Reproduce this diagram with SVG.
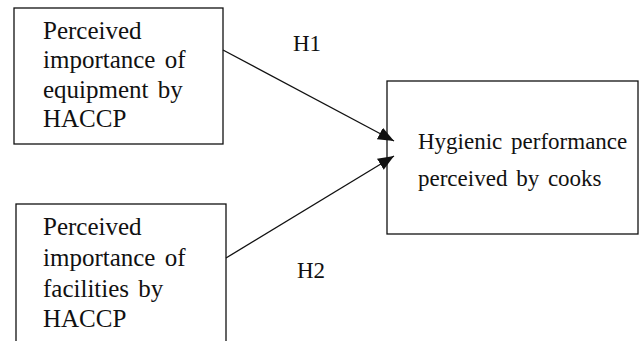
<svg xmlns="http://www.w3.org/2000/svg" width="644" height="341" viewBox="0 0 644 341">
<defs>
<style>
.box{fill:#fff;stroke:#111;stroke-width:1.3}
.t{font-family:"Liberation Serif","Times New Roman",serif;fill:#111;font-size:25px;word-spacing:3px}
.tr{font-family:"Liberation Serif","Times New Roman",serif;fill:#111;font-size:23px;word-spacing:3px}
.h{font-family:"Liberation Serif","Times New Roman",serif;fill:#111;font-size:23px}
.c{stroke:#111;stroke-width:1.3;fill:none}
</style>
<marker id="ah" markerWidth="17" markerHeight="14" refX="16" refY="6.5" orient="auto" markerUnits="userSpaceOnUse">
<path d="M0,0 L16,6.5 L0,13 Z" fill="#111"/>
</marker>
</defs>
<rect width="644" height="341" fill="#fff"/>
<g id="node-equipment">
<rect class="box" x="14" y="8" width="209" height="136"/>
<text class="t" x="43" y="39">Perceived</text>
<text class="t" x="43" y="68">importance of</text>
<text class="t" x="43" y="98">equipment by</text>
<text class="t" x="43" y="127">HACCP</text>
</g>
<g id="node-facilities">
<rect class="box" x="16" y="204" width="210" height="160"/>
<text class="t" x="43" y="235">Perceived</text>
<text class="t" x="43" y="266">importance of</text>
<text class="t" x="43" y="297">facilities by</text>
<text class="t" x="43" y="327">HACCP</text>
</g>
<g id="node-hygienic">
<rect class="box" x="387" y="81" width="251" height="153"/>
<text class="tr" x="418" y="149">Hygienic performance</text>
<text class="tr" x="418" y="186">perceived by cooks</text>
</g>
<g id="connectors">
<line class="c" x1="223" y1="50" x2="394" y2="141" marker-end="url(#ah)"/>
<line class="c" x1="226" y1="258" x2="394" y2="156" marker-end="url(#ah)"/>
<text class="h" x="293" y="51">H1</text>
<text class="h" x="297" y="278">H2</text>
</g>
</svg>
